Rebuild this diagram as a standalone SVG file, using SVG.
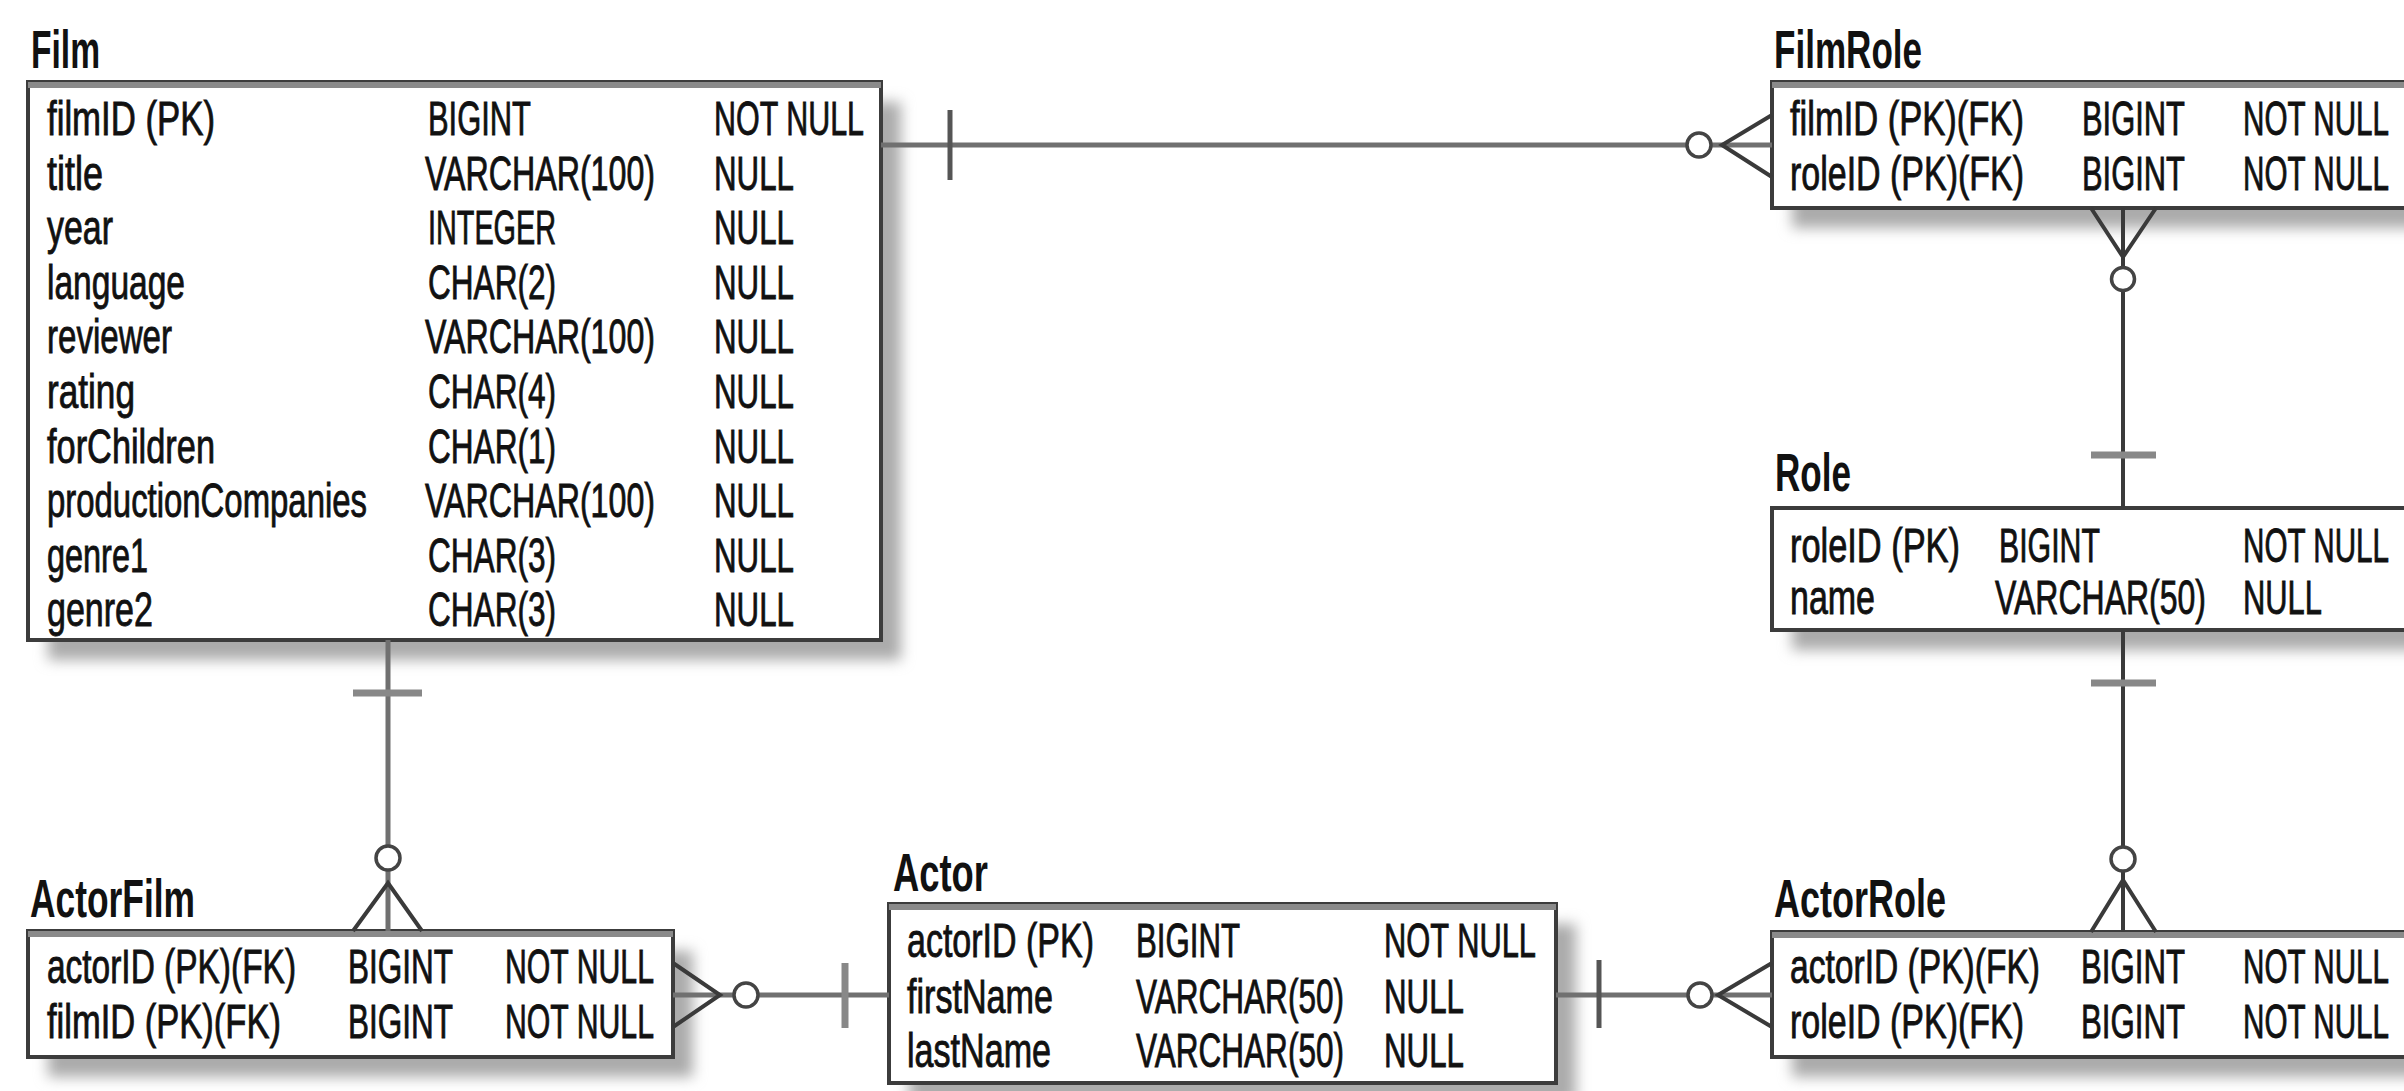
<svg xmlns="http://www.w3.org/2000/svg" width="2404" height="1091" viewBox="0 0 2404 1091">
<defs>
<filter id="sh" x="-10%" y="-20%" width="130%" height="150%"><feGaussianBlur stdDeviation="7"/></filter>
</defs>
<style>
.t{font-family:"Liberation Sans",Arial,sans-serif;font-weight:bold;font-size:53px;fill:#111}
.r{font-family:"Liberation Sans",Arial,sans-serif;font-size:49px;fill:#111;stroke:#111;stroke-width:0.9}
.box{fill:#fff;stroke:#3c3c3c;stroke-width:4}
.top{stroke:#8a8a8a;stroke-width:6}
.shadow{fill:#ababab;filter:url(#sh)}
.ln{stroke:#707070;stroke-width:5;fill:none}
.lnd{stroke:#3a3a3a;stroke-width:4;fill:none}
.bar{stroke:#555;stroke-width:5}
.barg{stroke:#888;stroke-width:7}
.ring{fill:#fff;stroke:#444;stroke-width:3.5}
</style>
<rect width="2404" height="1091" fill="#fff"/>

<g id="film">
<rect class="shadow" x="48" y="102" width="853" height="558"/>
<rect class="box" x="28" y="82" width="853" height="558"/>
<line class="top" x1="28" y1="85" x2="881" y2="85"/>
<text class="t" transform="translate(31,68) scale(0.64,1)" textLength="107.8" lengthAdjust="spacingAndGlyphs">Film</text>
<text class="r" transform="translate(47,135) scale(0.64,1)" textLength="262.5" lengthAdjust="spacingAndGlyphs">filmID (PK)</text>
<text class="r" transform="translate(428,135) scale(0.64,1)" textLength="160.9" lengthAdjust="spacingAndGlyphs">BIGINT</text>
<text class="r" transform="translate(714,135) scale(0.64,1)" textLength="234.4" lengthAdjust="spacingAndGlyphs">NOT NULL</text>
<text class="r" transform="translate(47,190) scale(0.64,1)" textLength="87.5" lengthAdjust="spacingAndGlyphs">title</text>
<text class="r" transform="translate(425,190) scale(0.64,1)" textLength="359.4" lengthAdjust="spacingAndGlyphs">VARCHAR(100)</text>
<text class="r" transform="translate(714,190) scale(0.64,1)" textLength="125" lengthAdjust="spacingAndGlyphs">NULL</text>
<text class="r" transform="translate(47,244) scale(0.64,1)" textLength="103.1" lengthAdjust="spacingAndGlyphs">year</text>
<text class="r" transform="translate(428,244) scale(0.64,1)" textLength="200" lengthAdjust="spacingAndGlyphs">INTEGER</text>
<text class="r" transform="translate(714,244) scale(0.64,1)" textLength="125" lengthAdjust="spacingAndGlyphs">NULL</text>
<text class="r" transform="translate(47,299) scale(0.64,1)" textLength="215.6" lengthAdjust="spacingAndGlyphs">language</text>
<text class="r" transform="translate(428,299) scale(0.64,1)" textLength="200" lengthAdjust="spacingAndGlyphs">CHAR(2)</text>
<text class="r" transform="translate(714,299) scale(0.64,1)" textLength="125" lengthAdjust="spacingAndGlyphs">NULL</text>
<text class="r" transform="translate(47,353) scale(0.64,1)" textLength="195.3" lengthAdjust="spacingAndGlyphs">reviewer</text>
<text class="r" transform="translate(425,353) scale(0.64,1)" textLength="359.4" lengthAdjust="spacingAndGlyphs">VARCHAR(100)</text>
<text class="r" transform="translate(714,353) scale(0.64,1)" textLength="125" lengthAdjust="spacingAndGlyphs">NULL</text>
<text class="r" transform="translate(47,408) scale(0.64,1)" textLength="137.5" lengthAdjust="spacingAndGlyphs">rating</text>
<text class="r" transform="translate(428,408) scale(0.64,1)" textLength="200" lengthAdjust="spacingAndGlyphs">CHAR(4)</text>
<text class="r" transform="translate(714,408) scale(0.64,1)" textLength="125" lengthAdjust="spacingAndGlyphs">NULL</text>
<text class="r" transform="translate(47,463) scale(0.64,1)" textLength="262.5" lengthAdjust="spacingAndGlyphs">forChildren</text>
<text class="r" transform="translate(428,463) scale(0.64,1)" textLength="200" lengthAdjust="spacingAndGlyphs">CHAR(1)</text>
<text class="r" transform="translate(714,463) scale(0.64,1)" textLength="125" lengthAdjust="spacingAndGlyphs">NULL</text>
<text class="r" transform="translate(47,517) scale(0.64,1)" textLength="500" lengthAdjust="spacingAndGlyphs">productionCompanies</text>
<text class="r" transform="translate(425,517) scale(0.64,1)" textLength="359.4" lengthAdjust="spacingAndGlyphs">VARCHAR(100)</text>
<text class="r" transform="translate(714,517) scale(0.64,1)" textLength="125" lengthAdjust="spacingAndGlyphs">NULL</text>
<text class="r" transform="translate(47,572) scale(0.64,1)" textLength="157.8" lengthAdjust="spacingAndGlyphs">genre1</text>
<text class="r" transform="translate(428,572) scale(0.64,1)" textLength="200" lengthAdjust="spacingAndGlyphs">CHAR(3)</text>
<text class="r" transform="translate(714,572) scale(0.64,1)" textLength="125" lengthAdjust="spacingAndGlyphs">NULL</text>
<text class="r" transform="translate(47,626) scale(0.64,1)" textLength="165.6" lengthAdjust="spacingAndGlyphs">genre2</text>
<text class="r" transform="translate(428,626) scale(0.64,1)" textLength="200" lengthAdjust="spacingAndGlyphs">CHAR(3)</text>
<text class="r" transform="translate(714,626) scale(0.64,1)" textLength="125" lengthAdjust="spacingAndGlyphs">NULL</text>
</g>

<g id="filmrole">
<rect class="shadow" x="1792" y="102" width="700" height="126"/>
<rect class="box" x="1772" y="82" width="700" height="126"/>
<line class="top" x1="1772" y1="85" x2="2472" y2="85"/>
<text class="t" transform="translate(1774,68) scale(0.64,1)" textLength="231.3" lengthAdjust="spacingAndGlyphs">FilmRole</text>
<text class="r" transform="translate(1790,135) scale(0.64,1)" textLength="365.6" lengthAdjust="spacingAndGlyphs">filmID (PK)(FK)</text>
<text class="r" transform="translate(2082,135) scale(0.64,1)" textLength="160.9" lengthAdjust="spacingAndGlyphs">BIGINT</text>
<text class="r" transform="translate(2243,135) scale(0.64,1)" textLength="228.1" lengthAdjust="spacingAndGlyphs">NOT NULL</text>
<text class="r" transform="translate(1790,190) scale(0.64,1)" textLength="365.6" lengthAdjust="spacingAndGlyphs">roleID (PK)(FK)</text>
<text class="r" transform="translate(2082,190) scale(0.64,1)" textLength="160.9" lengthAdjust="spacingAndGlyphs">BIGINT</text>
<text class="r" transform="translate(2243,190) scale(0.64,1)" textLength="228.1" lengthAdjust="spacingAndGlyphs">NOT NULL</text>
</g>

<g id="role">
<rect class="shadow" x="1792" y="528" width="700" height="122"/>
<rect class="box" x="1772" y="508" width="700" height="122"/>
<text class="t" transform="translate(1775,491) scale(0.64,1)" textLength="118.75" lengthAdjust="spacingAndGlyphs">Role</text>
<text class="r" transform="translate(1790,562) scale(0.64,1)" textLength="265.6" lengthAdjust="spacingAndGlyphs">roleID (PK)</text>
<text class="r" transform="translate(1999,562) scale(0.64,1)" textLength="157.8" lengthAdjust="spacingAndGlyphs">BIGINT</text>
<text class="r" transform="translate(2243,562) scale(0.64,1)" textLength="228.1" lengthAdjust="spacingAndGlyphs">NOT NULL</text>
<text class="r" transform="translate(1790,614) scale(0.64,1)" textLength="132.8" lengthAdjust="spacingAndGlyphs">name</text>
<text class="r" transform="translate(1995,614) scale(0.64,1)" textLength="329.7" lengthAdjust="spacingAndGlyphs">VARCHAR(50)</text>
<text class="r" transform="translate(2243,614) scale(0.64,1)" textLength="123.4" lengthAdjust="spacingAndGlyphs">NULL</text>
</g>

<g id="actorrole">
<rect class="shadow" x="1792" y="952" width="700" height="125"/>
<rect class="box" x="1772" y="932" width="700" height="125"/>
<line class="top" x1="1772" y1="935" x2="2472" y2="935"/>
<text class="t" transform="translate(1774,917) scale(0.64,1)" textLength="268.75" lengthAdjust="spacingAndGlyphs">ActorRole</text>
<text class="r" transform="translate(1790,983) scale(0.64,1)" textLength="390.6" lengthAdjust="spacingAndGlyphs">actorID (PK)(FK)</text>
<text class="r" transform="translate(2081,983) scale(0.64,1)" textLength="162.5" lengthAdjust="spacingAndGlyphs">BIGINT</text>
<text class="r" transform="translate(2243,983) scale(0.64,1)" textLength="228.1" lengthAdjust="spacingAndGlyphs">NOT NULL</text>
<text class="r" transform="translate(1790,1038) scale(0.64,1)" textLength="365.6" lengthAdjust="spacingAndGlyphs">roleID (PK)(FK)</text>
<text class="r" transform="translate(2081,1038) scale(0.64,1)" textLength="162.5" lengthAdjust="spacingAndGlyphs">BIGINT</text>
<text class="r" transform="translate(2243,1038) scale(0.64,1)" textLength="228.1" lengthAdjust="spacingAndGlyphs">NOT NULL</text>
</g>

<g id="actorfilm">
<rect class="shadow" x="48" y="951" width="645" height="126"/>
<rect class="box" x="28" y="931" width="645" height="126"/>
<line class="top" x1="28" y1="934" x2="673" y2="934"/>
<text class="t" transform="translate(30,917) scale(0.64,1)" textLength="257.8" lengthAdjust="spacingAndGlyphs">ActorFilm</text>
<text class="r" transform="translate(47,983) scale(0.64,1)" textLength="389.1" lengthAdjust="spacingAndGlyphs">actorID (PK)(FK)</text>
<text class="r" transform="translate(348,983) scale(0.64,1)" textLength="164.1" lengthAdjust="spacingAndGlyphs">BIGINT</text>
<text class="r" transform="translate(505,983) scale(0.64,1)" textLength="232.8" lengthAdjust="spacingAndGlyphs">NOT NULL</text>
<text class="r" transform="translate(47,1038) scale(0.64,1)" textLength="365.6" lengthAdjust="spacingAndGlyphs">filmID (PK)(FK)</text>
<text class="r" transform="translate(348,1038) scale(0.64,1)" textLength="164.1" lengthAdjust="spacingAndGlyphs">BIGINT</text>
<text class="r" transform="translate(505,1038) scale(0.64,1)" textLength="232.8" lengthAdjust="spacingAndGlyphs">NOT NULL</text>
</g>

<g id="actor">
<rect class="shadow" x="909" y="924" width="667" height="179"/>
<rect class="box" x="889" y="904" width="667" height="179"/>
<line class="top" x1="889" y1="907" x2="1556" y2="907"/>
<text class="t" transform="translate(893,891) scale(0.64,1)" textLength="148.4" lengthAdjust="spacingAndGlyphs">Actor</text>
<text class="r" transform="translate(907,957) scale(0.64,1)" textLength="292.2" lengthAdjust="spacingAndGlyphs">actorID (PK)</text>
<text class="r" transform="translate(1136,957) scale(0.64,1)" textLength="162.5" lengthAdjust="spacingAndGlyphs">BIGINT</text>
<text class="r" transform="translate(1384,957) scale(0.64,1)" textLength="237.5" lengthAdjust="spacingAndGlyphs">NOT NULL</text>
<text class="r" transform="translate(907,1013) scale(0.64,1)" textLength="228.1" lengthAdjust="spacingAndGlyphs">firstName</text>
<text class="r" transform="translate(1136,1013) scale(0.64,1)" textLength="325" lengthAdjust="spacingAndGlyphs">VARCHAR(50)</text>
<text class="r" transform="translate(1384,1013) scale(0.64,1)" textLength="125" lengthAdjust="spacingAndGlyphs">NULL</text>
<text class="r" transform="translate(907,1067) scale(0.64,1)" textLength="225" lengthAdjust="spacingAndGlyphs">lastName</text>
<text class="r" transform="translate(1136,1067) scale(0.64,1)" textLength="325" lengthAdjust="spacingAndGlyphs">VARCHAR(50)</text>
<text class="r" transform="translate(1384,1067) scale(0.64,1)" textLength="125" lengthAdjust="spacingAndGlyphs">NULL</text>
</g>

<g id="connectors">
<!-- Film - FilmRole -->
<line class="ln" x1="881" y1="145" x2="1772" y2="145"/>
<line class="bar" x1="950" y1="110" x2="950" y2="180"/>
<polyline class="lnd" points="1772,115 1722,145 1772,177"/>
<circle class="ring" cx="1699" cy="145" r="12"/>
<!-- FilmRole - Role -->
<line class="lnd" x1="2123" y1="208" x2="2123" y2="508"/>
<polyline class="lnd" points="2091,208 2123,257 2156,208"/>
<circle class="ring" cx="2123" cy="279" r="11.5"/>
<line class="barg" x1="2091" y1="455" x2="2156" y2="455"/>
<!-- Role - ActorRole -->
<line class="lnd" x1="2123" y1="630" x2="2123" y2="932"/>
<line class="barg" x1="2091" y1="683" x2="2156" y2="683"/>
<circle class="ring" cx="2123" cy="859" r="12"/>
<polyline class="lnd" points="2091,932 2123,880 2156,932"/>
<!-- Actor - ActorRole -->
<line class="ln" x1="1556" y1="995" x2="1772" y2="995"/>
<line class="bar" x1="1599" y1="960" x2="1599" y2="1028"/>
<circle class="ring" cx="1700" cy="995" r="12"/>
<polyline class="lnd" points="1772,963 1718,995 1772,1027"/>
<!-- ActorFilm - Actor -->
<line class="ln" x1="673" y1="995" x2="889" y2="995"/>
<polyline class="lnd" points="673,963 720,995 673,1027"/>
<circle class="ring" cx="746" cy="995" r="12"/>
<line class="barg" x1="845" y1="963" x2="845" y2="1028"/>
<!-- Film - ActorFilm -->
<line class="ln" x1="388" y1="640" x2="388" y2="931"/>
<line class="barg" x1="353" y1="693" x2="422" y2="693"/>
<circle class="ring" cx="388" cy="858" r="12"/>
<polyline class="lnd" points="353,931 388,883 422,931"/>
</g>
</svg>
